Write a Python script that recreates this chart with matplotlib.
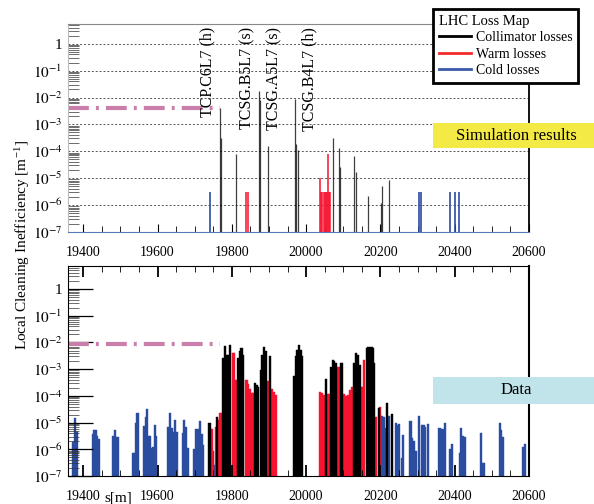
import numpy as np
import matplotlib
matplotlib.use("Agg")
import matplotlib.pyplot as plt
from matplotlib.ticker import FixedLocator, FuncFormatter, LogLocator, NullFormatter
from matplotlib.lines import Line2D
from matplotlib.patches import Rectangle

plt.rcParams["font.family"] = ["Liberation Serif", "DejaVu Serif"]
plt.rcParams["mathtext.fontset"] = "stix"

# ---- simulation (top panel): s [m], inefficiency [1/m]
sim_coll_s = [19769, 19771, 19812, 19874, 19877, 19897, 19970, 19973, 19979,
              20072, 20089, 20092, 20130, 20134, 20166, 20201, 20204, 20222]
sim_coll_v = [4.2e-3, 3.0e-4, 7.8e-5, 1.7e-2, 8.0e-3, 1.6e-4, 8.7e-3, 1.9e-4, 1.1e-4,
              3.0e-4, 1.35e-4, 2.7e-5, 6.7e-5, 1.7e-5, 2.2e-6, 1.2e-6, 5.1e-6, 8.5e-6]
sim_warm_s = [19838, 19843, 20037, 20040, 20043, 20047, 20050, 20053, 20056, 20059, 20062, 20065]
sim_warm_v = [3e-6, 3e-6, 1e-5, 3e-6, 3e-6, 3e-6, 3e-6, 3e-6, 3e-6, 7.8e-5, 3e-6, 3e-6]
sim_cold_s = [19741, 20303, 20308, 20387, 20400, 20412]
sim_cold_v = [3e-6, 3e-6, 3e-6, 3e-6, 3e-6, 3e-6]

# ---- measured data (bottom panel)
data_cold_s = [19373, 19376, 19379, 19382,
               19427, 19430, 19433, 19436, 19441,
               19481, 19485, 19489, 19494,
               19535, 19538, 19542, 19546,
               19563, 19568, 19571, 19576, 19579, 19582, 19587, 19592, 19597,
               19629, 19633, 19638, 19643, 19648, 19653,
               19668, 19672, 19677, 19681,
               19698, 19704, 19709, 19714, 19719, 19723,
               19748, 19751,
               20205, 20209, 20213, 20224,
               20242, 20246, 20251, 20257, 20262,
               20281, 20286, 20290, 20297, 20304, 20311, 20316, 20321, 20327,
               20359, 20364, 20368, 20373,
               20387, 20393,
               20414, 20418, 20422, 20427,
               20472, 20476, 20479,
               20521, 20525, 20530,
               20583, 20588]
data_cold_v = [1.9e-6, 1.9e-6, 1.45e-5, 4.5e-6,
               3.6e-6, 5.3e-6, 5.3e-6, 3.1e-6, 2.4e-6,
               3.2e-6, 5.3e-6, 3.0e-6, 2.9e-6,
               7.4e-7, 7.4e-7, 9.4e-6, 2.2e-5,
               7.6e-6, 1.66e-5, 3.2e-5, 3.1e-6, 3.1e-6, 1.1e-6, 1.2e-6, 8.1e-6, 3.1e-6,
               7.1e-6, 2.2e-5, 6.5e-6, 4.6e-6, 1.2e-5, 4.3e-6,
               4.0e-6, 1.2e-5, 7.1e-6, 1.1e-6,
               1.0e-6, 5.6e-6, 5.6e-6, 1.1e-5, 3.6e-6, 1.4e-6,
               8.9e-7, 2.5e-7,
               1.7e-5, 1.6e-5, 6.2e-6, 1.7e-5,
               1.0e-5, 8.2e-6, 8.6e-6, 4.6e-7, 3.5e-6,
               1.1e-5, 2.6e-6, 2.0e-6, 8.9e-7, 1.8e-5, 8.2e-6, 8.2e-6, 7.1e-6, 8.8e-6,
               6.5e-6, 5.6e-6, 5.8e-6, 9.4e-6,
               1.0e-6, 1.6e-6,
               7.4e-7, 6.2e-6, 3.1e-6, 2.9e-6,
               4.2e-6, 3.0e-7, 3.0e-7,
               1.0e-5, 5.3e-6, 2.9e-6,
               1.26e-6, 1.6e-6]
data_coll_s = [19740, 19760, 19777, 19782, 19786, 19790, 19795,
               19817, 19822, 19826, 19830,
               19862, 19867, 19871, 19878, 19882, 19887, 19891,
               19904,
               19967, 19972, 19976, 19980, 19985, 19989,
               20053, 20068, 20072, 20076, 20080, 20094, 20097,
               20129, 20134, 20139, 20144,
               20164, 20168, 20176, 20179, 20183,
               20195, 20217, 20230]
data_coll_v = [1.0e-5, 1.6e-5, 2.6e-3, 7.4e-3, 3.4e-3, 3.4e-3, 8.1e-3,
               2.6e-3, 4.9e-3, 6.0e-3, 3.3e-3,
               3.0e-4, 2.6e-4, 2.2e-4, 9.3e-4, 3.4e-3, 6.6e-3, 4.9e-3,
               3.0e-3,
               5.6e-4, 3.0e-3, 5.2e-3, 8.1e-3, 5.2e-3, 3.0e-3,
               4.2e-4, 1.2e-3, 2.2e-3, 2.0e-3, 1.7e-3, 1.7e-3, 1.7e-3,
               1.66e-3, 4.0e-3, 3.4e-3, 1.44e-3,
               6.0e-3, 6.6e-3, 6.6e-3, 6.0e-3, 1.66e-3,
               3.5e-5, 5.2e-5, 2.1e-5]
data_warm_s = [19744, 19747, 19758, 19763, 19766, 19769, 19772,
               19802, 19805, 19808, 19811,
               19837, 19840, 19844, 19849, 19853, 19856,
               19895, 19899, 19908, 19913, 19918,
               20038, 20042, 20047, 20058, 20062,
               20086, 20090,
               20101, 20105, 20108, 20113, 20118, 20123,
               20151, 20154, 20157,
               20189, 20200]
data_warm_v = [5.6e-6, 5.6e-6, 6.6e-6, 1.3e-5, 1.3e-5, 2.3e-5, 2.3e-5,
               4.0e-3, 4.0e-3, 4.0e-4, 4.0e-4,
               4.0e-4, 4.0e-4, 2.8e-4, 1.8e-4, 1.3e-4, 1.3e-4,
               3.7e-4, 3.7e-4, 1.8e-4, 1.45e-4, 1.1e-4,
               1.45e-4, 1.3e-4, 1.1e-4, 1.2e-4, 1.2e-4,
               1.2e-3, 1.2e-3,
               1.2e-4, 1.0e-4, 9.8e-5, 1.05e-4, 1.6e-4, 2.1e-4,
               2.1e-4, 2.1e-4, 2.2e-3,
               1.6e-5, 3.9e-5]

# quench-limit style reference lines
sim_limit = 4.2e-3
data_limit = 8.5e-3
limit_end = 19768

coll_names = ["TCP.C6L7 (h)", "TCSG.B5L7 (s)", "TCSG.A5L7 (s)", "TCSG.B4L7 (h)"]
coll_label_s = [19735, 19842, 19915, 20010]

xticks = [19400, 19600, 19800, 20000, 20200, 20400, 20600]
xmin, xmax = 19359, 20594
floor = 1e-7

c_coll = "#000000"
c_warm = "#f5132f"
c_cold = "#2a4d9f"
c_limit = "#c97fa9"

fig = plt.figure(figsize=(5.94, 5.04), dpi=100)
ax1 = fig.add_axes([68 / 594, 1 - 232 / 504, 461 / 594, 208 / 504])
ax2 = fig.add_axes([68 / 594, 1 - 476 / 504, 461 / 594, 210 / 504])


def log_label(v, pos):
    if abs(v - 1) < 1e-9:
        return "1"
    return r"$10^{%d}$" % int(round(np.log10(v)))


for ax, top in [(ax1, 5.4), (ax2, 7.3)]:
    ax.set_yscale("log")
    ax.set_xlim(xmin, xmax)
    ax.set_ylim(floor, top)
    ax.yaxis.set_major_locator(FixedLocator([10.0 ** k for k in range(-7, 1)]))
    ax.yaxis.set_major_formatter(FuncFormatter(log_label))
    ax.yaxis.set_minor_locator(LogLocator(base=10, subs=np.arange(2, 10), numticks=20))
    ax.yaxis.set_minor_formatter(NullFormatter())
    ax.set_xticks(xticks)
    ax.set_xticklabels([str(t) for t in xticks])
    ax.set_xticks(np.arange(19400, 20600, 50), minor=True)
    ax.tick_params(axis="both", which="both", direction="in", labelsize=10)
    ax.tick_params(axis="y", which="major", length=18, width=0.9, pad=4, labelsize=11)
    ax.tick_params(axis="y", which="minor", length=8, width=0.5, color="#333333")
    ax.tick_params(axis="x", which="major", length=6, pad=10)
    ax.tick_params(axis="x", which="minor", length=4, width=0.6)

# ---- top panel
ax1.yaxis.grid(True, which="major", linestyle=(0, (2, 2)), color="#555555", lw=0.7)
ax1.tick_params(axis="y", which="major", length=0)
ax1.spines["top"].set_color("#888888")
ax1.spines["left"].set_color("#bbbbbb")
ax1.spines["bottom"].set_color("#5577bb")
ax1.spines["right"].set_color("black")
ax1.spines["right"].set_linewidth(1.3)

ax1.vlines(sim_coll_s, floor, sim_coll_v, colors=c_coll, lw=0.9, alpha=0.75)
ax1.vlines(sim_warm_s, floor, sim_warm_v, colors=c_warm, lw=1.1)
ax1.vlines(sim_cold_s, floor, sim_cold_v, colors=c_cold, lw=1.2)
ax1.plot([xmin, limit_end], [sim_limit, sim_limit], color=c_limit, lw=3,
         linestyle=(0, (5, 1.7, 0.7, 1.7)), solid_capstyle="butt")

for name, s in zip(coll_names, coll_label_s):
    ax1.text(s, 0.985, name, rotation=90, ha="center", va="top", fontsize=11.5,
             transform=ax1.get_xaxis_transform())

# ---- bottom panel
for side in ["top", "right", "bottom", "left"]:
    ax2.spines[side].set_color("black")
ax2.spines["right"].set_linewidth(1.5)
ax2.tick_params(axis="x", which="both", top=True)
ax2.tick_params(axis="x", which="major", length=8, width=1.3)

bw = 5.6
ax2.bar(data_cold_s, np.array(data_cold_v) - floor, bottom=floor, width=bw,
        color=c_cold, edgecolor=c_cold, lw=0.3)
ax2.bar(data_warm_s, np.array(data_warm_v) - floor, bottom=floor, width=bw,
        color=c_warm, edgecolor=c_warm, lw=0.3)
ax2.bar(data_coll_s, np.array(data_coll_v) - floor, bottom=floor, width=bw,
        color=c_coll, edgecolor=c_coll, lw=0.3)
ax2.plot([xmin, limit_end], [data_limit, data_limit], color=c_limit, lw=3,
         linestyle=(0, (5, 1.7, 0.7, 1.7)), solid_capstyle="butt")

# axis titles
fig.text(22 / 594, 1 - 245 / 504, r"Local Cleaning Inefficiency [m$^{\mathregular{-1}}$]",
         rotation=90, ha="center", va="center", fontsize=11)
fig.text(118 / 594, 1 - 492 / 504, "s[m]", ha="center", va="top", fontsize=11)

# legend
handles = [Line2D([], [], color="black", lw=2),
           Line2D([], [], color="#f52a2a", lw=2),
           Line2D([], [], color="#3a5aa8", lw=2)]
leg = fig.legend(handles, ["Collimator losses", "Warm losses", "Cold losses"],
                 title="LHC Loss Map", loc="upper left",
                 bbox_to_anchor=(433 / 594, 1 - 9 / 504), bbox_transform=fig.transFigure,
                 frameon=True, fancybox=False, edgecolor="black", framealpha=1,
                 borderaxespad=0, handlelength=2.3, handletextpad=0.4,
                 labelspacing=0.25, borderpad=0.4, fontsize=10, title_fontsize=10.5,
                 alignment="left")
leg.get_frame().set_linewidth(2)

# annotation boxes
fig.add_artist(Rectangle((433 / 594, 1 - 148 / 504), 161 / 594, 25 / 504,
                         transform=fig.transFigure, color="#f4ea45", lw=0, zorder=5))
fig.text(516 / 594, 1 - 136 / 504, "Simulation results", ha="center", va="center",
         fontsize=12, zorder=6)
fig.add_artist(Rectangle((433 / 594, 1 - 404 / 504), 161 / 594, 27 / 504,
                         transform=fig.transFigure, color="#c0e4ea", lw=0, zorder=5))
fig.text(516 / 594, 1 - 390 / 504, "Data", ha="center", va="center",
         fontsize=12, zorder=6)

fig.savefig("out.png", dpi=100, facecolor="white")
